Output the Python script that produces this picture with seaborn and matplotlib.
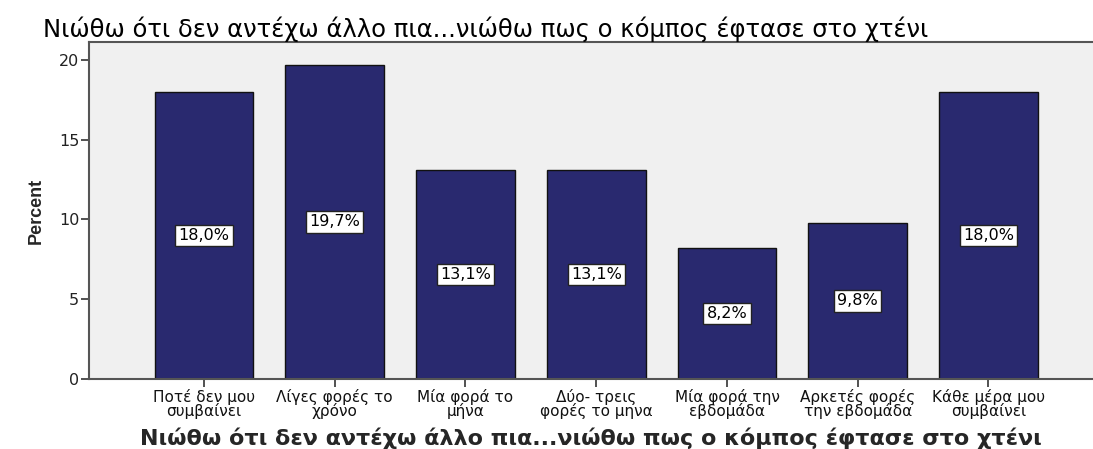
import matplotlib
matplotlib.use("Agg")
import matplotlib.pyplot as plt
import seaborn as sns
import pandas as pd

# Response categories and their percentages
categories = [
    "Ποτέ δεν μου\nσυμβαίνει",
    "Λίγες φορές το\nχρόνο",
    "Μία φορά το\nμήνα",
    "Δύο- τρεις\nφορές το μηνα",
    "Μία φορά την\nεβδομάδα",
    "Αρκετές φορές\nτην εβδομάδα",
    "Κάθε μέρα μου\nσυμβαίνει",
]
percent = [18.0, 19.7, 13.1, 13.1, 8.2, 9.8, 18.0]
value_labels = ["18,0%", "19,7%", "13,1%", "13,1%", "8,2%", "9,8%", "18,0%"]
title_text = "Νιώθω ότι δεν αντέχω άλλο πια...νιώθω πως ο κόμπος έφτασε στο χτένι"
y_ticks = [0, 5, 10, 15, 20]

df = pd.DataFrame({"category": categories, "percent": percent})

sns.set_theme(style="white")
plt.rcParams["font.family"] = ["DejaVu Sans"]

fig = plt.figure(figsize=(10.93, 4.49), dpi=100)
ax = fig.add_axes([0.0814, 0.156, 0.9186, 0.7505])
ax.set_facecolor("#f0f0f0")

sns.barplot(data=df, x="category", y="percent", ax=ax, color="#29296f",
            saturation=1, width=0.755, edgecolor="#111111", linewidth=1.0)

for patch, lab in zip(ax.patches, value_labels):
    cx = patch.get_x() + patch.get_width() / 2
    ax.text(cx, patch.get_height() / 2, lab, ha="center", va="center",
            fontsize=11.5, color="black",
            bbox=dict(boxstyle="square,pad=0.2", fc="white", ec="#222222", lw=1.0))

ax.set_xlim(-0.88, 6.8)
ax.set_ylim(0, 21.13)
ax.set_yticks(y_ticks)
ax.set_yticklabels([str(t) for t in y_ticks], fontsize=11.5, color="#222222")
ax.tick_params(axis="both", which="both", length=6, width=1.2, color="#333333",
               direction="out", left=True, bottom=True, pad=1)
ax.set_xticks(range(len(categories)))
ax.set_xticklabels(categories, fontsize=11, linespacing=0.85, color="#111111")

for side in ["left", "bottom", "top"]:
    ax.spines[side].set_visible(True)
    ax.spines[side].set_color("#555555")
    ax.spines[side].set_linewidth(1.5)
ax.spines["right"].set_visible(False)

ax.set_xlabel(title_text, fontsize=16, fontweight="bold", labelpad=6)
ax.set_ylabel("Percent", fontsize=13, fontweight="bold", labelpad=10,
              family=["Liberation Sans Narrow", "Liberation Sans", "DejaVu Sans"])
fig.text(0.039, 0.935, title_text, fontsize=17.5, ha="left", va="center",
         color="black")

fig.savefig("out.png", dpi=100)
